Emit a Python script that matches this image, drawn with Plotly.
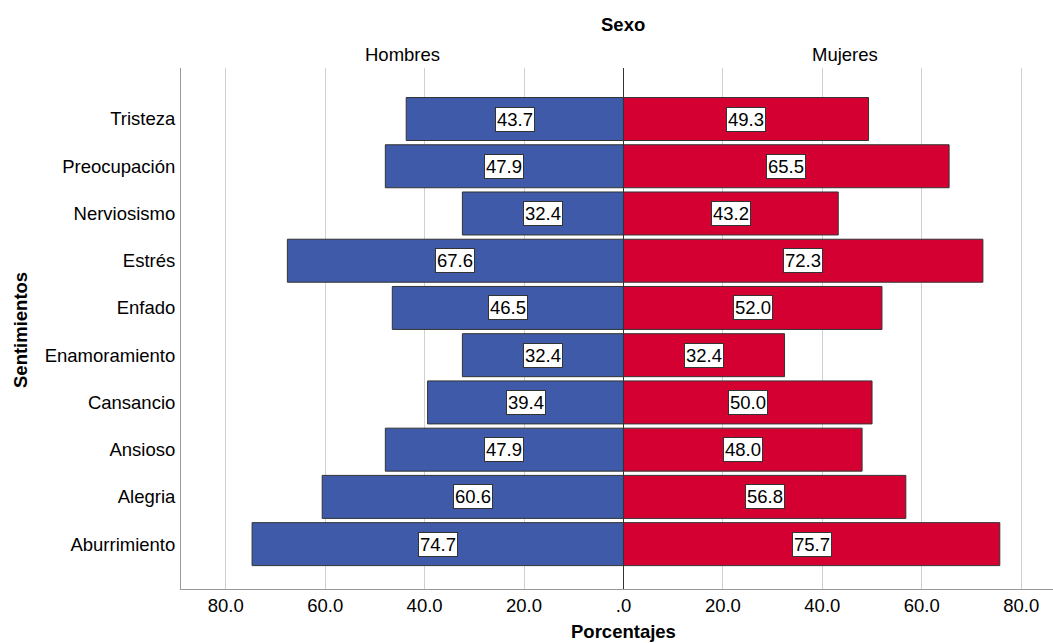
import plotly.graph_objects as go

categories = ["Aburrimiento", "Alegria", "Ansioso", "Cansancio", "Enamoramiento",
              "Enfado", "Estrés", "Nerviosismo", "Preocupación", "Tristeza"]
hombres = [74.7, 60.6, 47.9, 39.4, 32.4, 46.5, 67.6, 32.4, 47.9, 43.7]
mujeres = [75.7, 56.8, 48.0, 50.0, 32.4, 52.0, 72.3, 43.2, 65.5, 49.3]
tick_vals = [-80, -60, -40, -20, 0, 20, 40, 60, 80]
tick_text = ["80.0", "60.0", "40.0", "20.0", ".0", "20.0", "40.0", "60.0", "80.0"]

FONT = "Liberation Sans, Arial, sans-serif"
FS = 18.5
BLUE = "#3E5AA8"
RED = "#D50032"

W, H = 1053, 643
L, R, T, B = 181, 0, 68, 54
plot_w, plot_h = W - L - R, H - T - B


def px_x(px):
    return (px - L) / plot_w


def px_y(py):
    return (H - B - py) / plot_h


fig = go.Figure()
fig.add_trace(go.Bar(
    y=categories, x=[-v for v in hombres], orientation="h", name="Hombres",
    marker=dict(color=BLUE, line=dict(color="#333333", width=1)), width=0.91,
    hoverinfo="skip"))
fig.add_trace(go.Bar(
    y=categories, x=mujeres, orientation="h", name="Mujeres",
    marker=dict(color=RED, line=dict(color="#333333", width=1)), width=0.91,
    hoverinfo="skip"))

for cat, h, m in zip(categories, hombres, mujeres):
    for xv, val in ((-h / 2, h), (m / 2, m)):
        fig.add_annotation(x=xv, y=cat, xref="x", yref="y", text=f"{val:.1f}",
                           showarrow=False, bgcolor="white", bordercolor="#333333",
                           borderwidth=1, borderpad=1,
                           font=dict(family=FONT, size=FS, color="black"))

top_labels = [(402, 55, "Hombres"), (845, 55, "Mujeres"), (623, 25, "<b>Sexo</b>"),
              (623, 631, "<b>Porcentajes</b>")]
for x, y, t in top_labels:
    fig.add_annotation(x=px_x(x), y=px_y(y), xref="paper", yref="paper", text=t,
                       xanchor="center", yanchor="middle",
                       showarrow=False, font=dict(family=FONT, size=FS, color="black"))
fig.add_annotation(x=px_x(20), y=px_y(330), xref="paper", yref="paper",
                   text="<b>Sentimientos</b>", textangle=-90, showarrow=False,
                   xanchor="center", yanchor="middle",
                   font=dict(family=FONT, size=FS, color="black"))

fig.update_layout(
    width=W, height=H,
    margin=dict(l=L, r=R, t=T, b=B),
    paper_bgcolor="white", plot_bgcolor="white",
    barmode="overlay", showlegend=False,
    font=dict(family=FONT, size=FS, color="black"),
    xaxis=dict(range=[-89, 86.4], tickvals=tick_vals, ticktext=tick_text,
               showgrid=True, gridcolor="#D0D0D0", gridwidth=1,
               zeroline=True, zerolinecolor="#333333", zerolinewidth=1,
               showline=True, linecolor="#999999", linewidth=1,
               ticks="", tickfont=dict(family=FONT, size=FS, color="black"),
               fixedrange=True),
    yaxis=dict(range=[-0.95, 10.08], categoryorder="array", categoryarray=categories,
               showgrid=False, showline=True, linecolor="#999999", linewidth=1,
               ticks="", ticklabelstandoff=1,
               tickfont=dict(family=FONT, size=FS, color="black"),
               fixedrange=True),
)

fig.write_html("out.html", config={"displayModeBar": False},
               post_script="document.body.style.margin='0';document.body.style.overflow='hidden';")
